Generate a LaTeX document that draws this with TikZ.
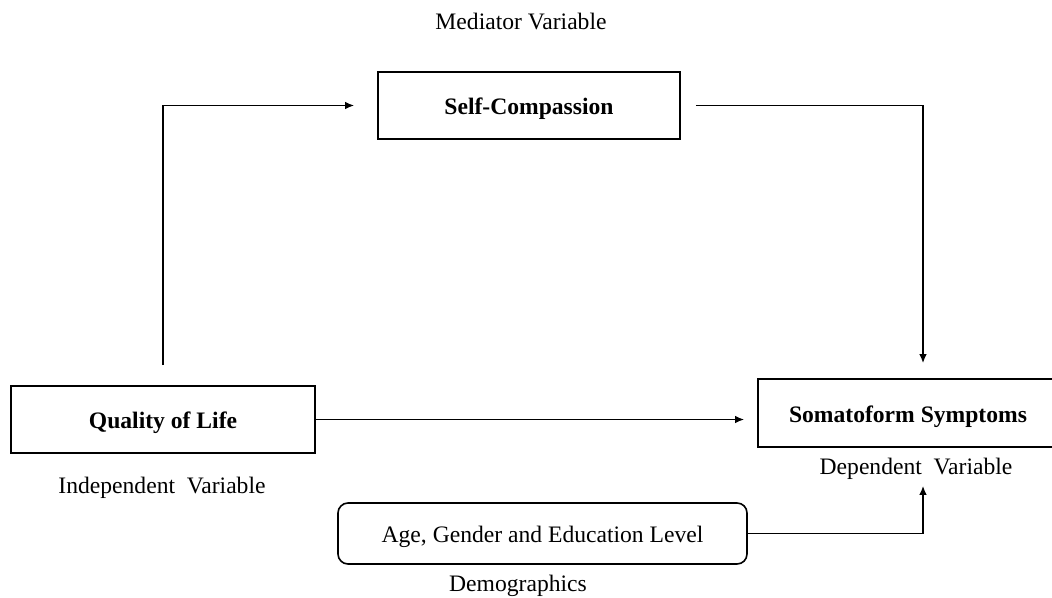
\documentclass[tikz,border=0pt]{standalone}
\usepackage{fontspec}
\setmainfont{Liberation Serif}
\usetikzlibrary{arrows.meta}
\newcommand\lowtxt[1]{\raisebox{-1.8pt}[\height][\depth]{#1}}
\begin{document}
\begin{tikzpicture}[x=0.5pt,y=-0.5pt,
  every node/.style={font=\fontsize{11.8}{14}\selectfont, inner sep=0pt},
  varbox/.style={draw, line width=0.8pt, font=\fontsize{11.8}{14}\selectfont\bfseries},
  demobox/.style={draw, line width=0.8pt, rounded corners=5pt},
  arr/.style={line width=0.85pt, -{Latex[length=4.5pt,width=3.8pt]}},
  lab/.style={}]
\useasboundingbox (0,0) rectangle (1052,598);
\node[varbox, minimum width=151pt, minimum height=33.5pt] (self) at (529,105.5) {\lowtxt{Self-Compassion}};
\node[varbox, minimum width=152pt, minimum height=33.5pt] (qol) at (163,419.5) {\lowtxt{Quality of Life}};
\node[varbox, minimum width=150pt, minimum height=34pt] (soma) at (908,413) {\lowtxt{Somatoform Symptoms}};
\node[demobox, minimum width=204.5pt, minimum height=30.5pt] (demo) at (542.5,533.5) {\lowtxt{Age, Gender and Education Level}};
\node[lab] (medl) at (521,21) {Mediator Variable};
\node[lab] (indl) at (162,488) {Independent\ \ Variable};
\node[lab] (depl) at (916,469) {Dependent\ \ Variable};
\node[lab] (deml) at (518,586) {Demographics};
\coordinate (sn) at ([xshift=7.5pt]soma.north);
\coordinate (ss) at ([xshift=7.5pt]soma.south);
\draw[arr, shorten <=10pt, shorten >=11.5pt] (qol.north) |- (self.west);
\draw[arr, shorten <=7.5pt, shorten >=7.5pt] (self.east) -| (sn);
\draw[arr, shorten >=6.5pt] (qol.east) -- (qol.east -| soma.west);
\draw[arr, shorten >=19pt] (demo.east) -| (ss);
\end{tikzpicture}
\end{document}
